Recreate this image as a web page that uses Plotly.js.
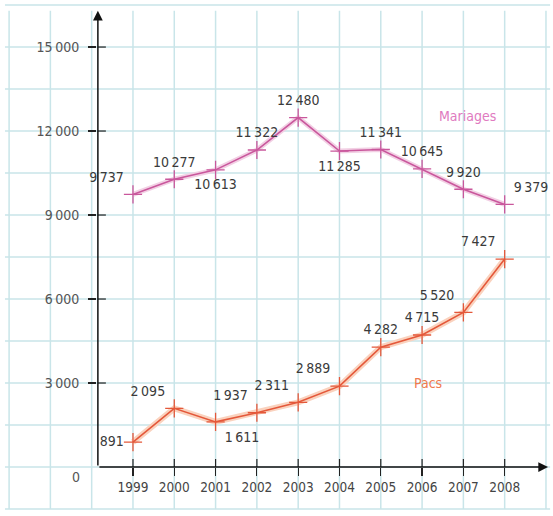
<!DOCTYPE html>
<html><head><meta charset="utf-8">
<script src="https://cdn.plot.ly/plotly-3.0.1.min.js"></script>
<style>html,body{margin:0;padding:0;background:#fff}#chart{width:553px;height:516px}</style>
</head><body><div id="chart"></div>
<script>
// ---- data ----
const years = [1999, 2000, 2001, 2002, 2003, 2004, 2005, 2006, 2007, 2008];
const mariages = [9737, 10277, 10613, 11322, 12480, 11285, 11341, 10645, 9920, 9379];
const pacs = [891, 2095, 1611, 1937, 2311, 2889, 4282, 4715, 5520, 7427];
const yTickVals = [3000, 6000, 9000, 12000, 15000];
const zeroLabel = '0';
const seriesNames = ['Mariages', 'Pacs'];

// ---- style ----
const FONT = '"Liberation Sans Narrow", "DejaVu Sans Condensed", "Open Sans", sans-serif';
const GRID = '#c9e5e9';
const MAR_C = '#c9579c', MAR_HALO = '#f2d0e4', MAR_TXT = '#e07ac0';
const PAC_C = '#e4583a', PAC_HALO = '#fad2be', PAC_TXT = '#f07a4e';
const X_RANGE = [1995.78, 2009.17];
const Y_RANGE = [-1750, 16680];
const AXIS_X = 1998.15;

const marPos = ['top left','top center','bottom center','top center','top center','bottom center','top center','top center','top center','top right'];
const pacPos = ['middle left','top left','bottom right','top left','top left','top left','top center','top center','top left','top left'];

const fmt = v => v.toLocaleString('fr-FR').replace(/\s/g, '\u2009');

const traces = [
  {x: years, y: mariages, mode: 'lines', line: {color: MAR_HALO, width: 5}, hoverinfo: 'skip', showlegend: false},
  {x: years, y: mariages, name: seriesNames[0], mode: 'lines+markers+text',
   line: {color: MAR_C, width: 1.6},
   marker: {symbol: 'cross-thin', size: 13, line: {color: MAR_C, width: 1.3}},
   text: mariages.map(fmt), textposition: marPos,
   textfont: {family: FONT, size: 14, color: '#3a3a3a'}, cliponaxis: false, showlegend: false},
  {x: years, y: pacs, mode: 'lines', line: {color: PAC_HALO, width: 6}, hoverinfo: 'skip', showlegend: false},
  {x: years, y: pacs, name: seriesNames[1], mode: 'lines+markers+text',
   line: {color: PAC_C, width: 1.6},
   marker: {symbol: 'cross-thin', size: 13, line: {color: PAC_C, width: 1.3}},
   text: pacs.map(fmt), textposition: pacPos,
   textfont: {family: FONT, size: 14, color: '#3a3a3a'}, cliponaxis: false, showlegend: false}
];

// grid + tick crosses (style shapes)
const shapes = [];
for (let gx = 1996; gx <= 2009; gx++) {
  shapes.push({type: 'line', layer: 'below', x0: gx, x1: gx, y0: -1500, y1: 16300, line: {color: GRID, width: 1.5}});
}
for (let gy = -1500; gy <= 16500; gy += 1500) {
  shapes.push({type: 'line', layer: 'below', x0: 1995.9, x1: 2009.1, y0: gy, y1: gy, line: {color: GRID, width: 1.5}});
}
years.forEach(yr => shapes.push({type: 'line', x0: yr, x1: yr, ysizemode: 'pixel', yanchor: 0, y0: 0, y1: 8, line: {color: '#222', width: 1.2}}));
yTickVals.forEach(v => shapes.push({type: 'line', y0: v, y1: v, xsizemode: 'pixel', xanchor: AXIS_X, x0: 0, x1: 8, line: {color: '#222', width: 1.2}}));

const annotations = [
  {x: AXIS_X, y: 16300, ax: AXIS_X, ay: 0, axref: 'x', ayref: 'y', xref: 'x', yref: 'y', text: '', showarrow: true,
   arrowhead: 2, arrowsize: 1.3, arrowwidth: 1.5, arrowcolor: '#111'},
  {x: 2009.05, y: 0, ax: AXIS_X, ay: 0, axref: 'x', ayref: 'y', xref: 'x', yref: 'y', text: '', showarrow: true,
   arrowhead: 2, arrowsize: 1.3, arrowwidth: 1.5, arrowcolor: '#111'},
  {x: AXIS_X, y: 0, text: zeroLabel, showarrow: false, xanchor: 'right', yanchor: 'middle', xshift: -16, yshift: -10,
   font: {family: FONT, size: 14, color: '#555'}},
  {x: 2007.1, y: 12550, text: seriesNames[0], showarrow: false, font: {family: FONT, size: 14, color: MAR_TXT}},
  {x: 2006.15, y: 3000, text: seriesNames[1], showarrow: false, font: {family: FONT, size: 14, color: PAC_TXT}}
];

const layout = {
  width: 553, height: 516, margin: {l: 0, r: 0, t: 0, b: 0},
  paper_bgcolor: '#fff', plot_bgcolor: '#fff',
  separators: ',\u2009',
  showlegend: false,
  xaxis: {range: X_RANGE, showgrid: false, zeroline: false, showline: false,
    tickvals: years, ticks: 'outside', ticklen: 8, tickwidth: 1.2, tickcolor: '#222',
    anchor: 'free', position: (516 - 467) / 516,
    tickfont: {family: FONT, size: 13.5, color: '#444'}},
  yaxis: {range: Y_RANGE, showgrid: false, zeroline: false, showline: false,
    tickvals: yTickVals, ticks: 'outside', ticklen: 8, tickwidth: 1.2, tickcolor: '#222',
    separatethousands: true, tickformat: ',d',
    anchor: 'free', position: 96 / 553, ticklabelstandoff: 6,
    tickfont: {family: FONT, size: 14, color: '#555'}},
  shapes: shapes, annotations: annotations
};

Plotly.newPlot('chart', traces, layout, {staticPlot: true, displayModeBar: false});
</script></body></html>
